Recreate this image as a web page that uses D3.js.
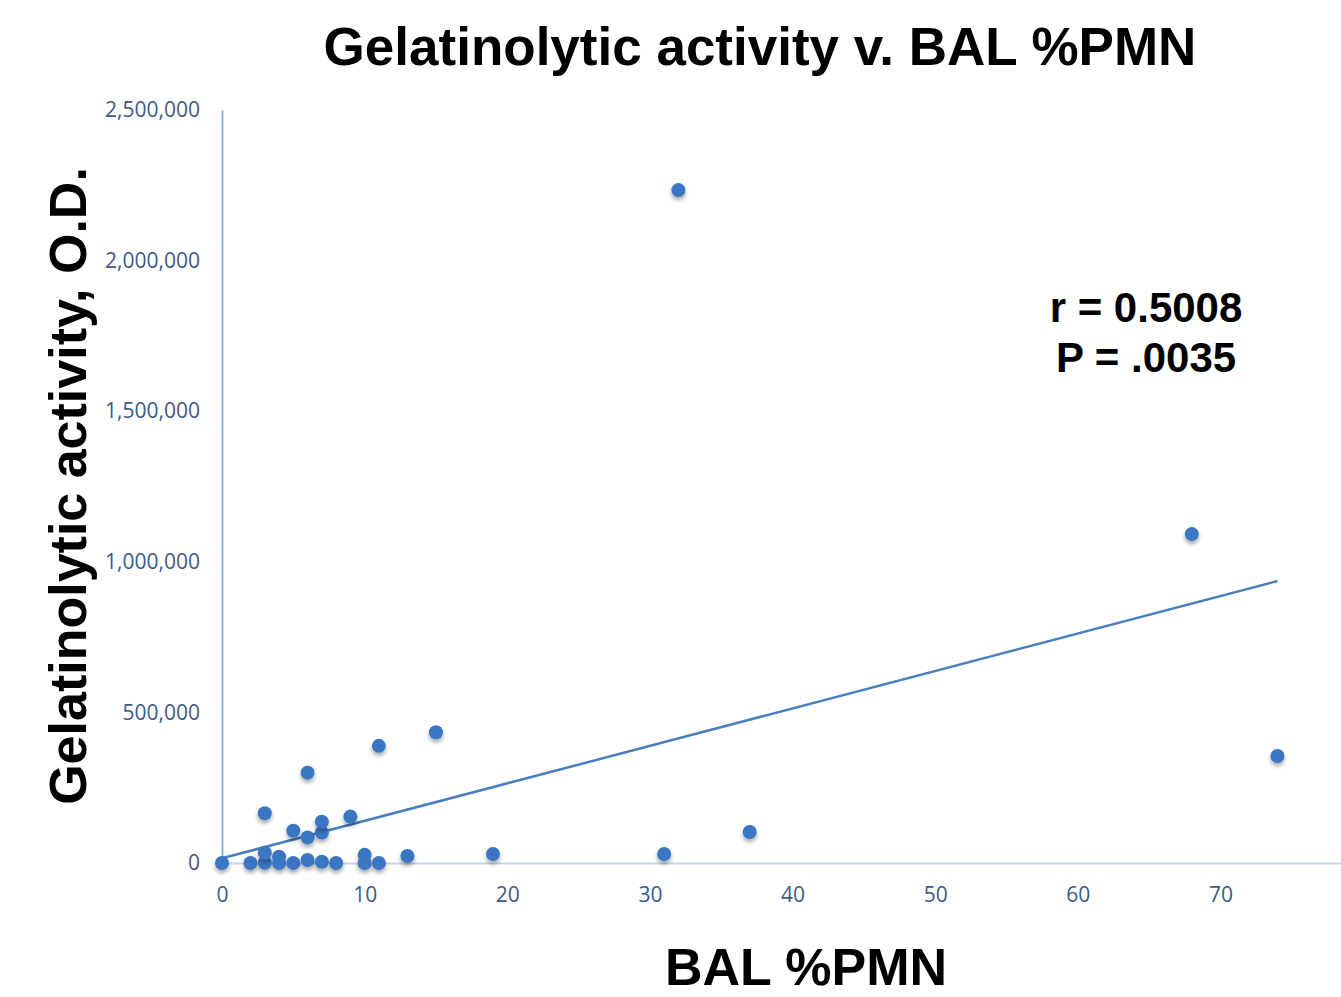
<!DOCTYPE html>
<html>
<head>
<meta charset="utf-8">
<script src="https://cdn.jsdelivr.net/npm/d3@7"></script>
<style>
  body { margin: 0; background: #fff; }
  svg { display: block; }
</style>
</head>
<body>
<div id="chart"></div>
<script>
const width = 1341;
const height = 997;

// BAL %PMN vs gelatinolytic activity (O.D.)
const pmn = [0, 2, 3, 3, 3, 4, 4, 5, 5, 6, 6, 6, 7, 7, 7, 8, 9, 10, 10, 11, 11, 13, 15, 19, 31, 32, 37, 68, 74];
const activity = [0, 0, 1000, 34000, 165000, 21000, 0, 0, 107000, 10000, 85000, 300000, 4000, 101000, 137000, 0, 154000, 27000, 0, 0, 389000, 23000, 434000, 30000, 30000, 2234000, 103000, 1092000, 355000];

// fitted line
const trendIntercept = 15600;
const trendSlope = 12440;
const trendRange = [0, 74];

const xTicks = [0, 10, 20, 30, 40, 50, 60, 70];
const yTicks = [0, 500000, 1000000, 1500000, 2000000, 2500000];

const points = pmn.map((p, i) => ({ x: p, y: activity[i] }));

const svg = d3.select("#chart")
  .append("svg")
  .attr("width", width)
  .attr("height", height);

const defs = svg.append("defs");
const shadow = defs.append("filter")
  .attr("id", "shadow")
  .attr("x", "-50%").attr("y", "-50%")
  .attr("width", "200%").attr("height", "200%");
shadow.append("feDropShadow")
  .attr("dx", 0).attr("dy", 3)
  .attr("stdDeviation", 2)
  .attr("flood-color", "#000")
  .attr("flood-opacity", 0.35);

const x = d3.scaleLinear().domain([0, 80]).range([222, 1363]);
const y = d3.scaleLinear().domain([0, 2500000]).range([863, 110]);

const tickColor = "#3d5a86";
const tickFont = "'Open Sans', 'Liberation Sans', sans-serif";

// x axis
const xAxis = svg.append("g")
  .attr("transform", `translate(0,${y(0)})`)
  .call(d3.axisBottom(x).tickValues(xTicks).tickSize(0).tickPadding(24));
xAxis.select(".domain").attr("stroke", "#c3d6ee").attr("stroke-width", 2);
xAxis.selectAll("text")
  .attr("fill", tickColor)
  .style("font-family", tickFont)
  .style("font-size", "21px");

// y axis
const yAxis = svg.append("g")
  .attr("transform", `translate(${x(0)},0)`)
  .call(d3.axisLeft(y).tickValues(yTicks).tickSize(0).tickPadding(22)
    .tickFormat(d3.format(",")));
yAxis.select(".domain").attr("stroke", "#8db3e2").attr("stroke-width", 2);
yAxis.selectAll("text")
  .attr("fill", tickColor)
  .style("font-family", tickFont)
  .style("font-size", "21px");

// trend line
svg.append("line")
  .attr("x1", x(trendRange[0]))
  .attr("y1", y(trendIntercept + trendSlope * trendRange[0]))
  .attr("x2", x(trendRange[1]))
  .attr("y2", y(trendIntercept + trendSlope * trendRange[1]))
  .attr("stroke", "#4a7ebf")
  .attr("stroke-width", 2.5);

// points
svg.append("g")
  .selectAll("circle")
  .data(points)
  .join("circle")
  .attr("cx", d => x(d.x))
  .attr("cy", d => y(d.y))
  .attr("r", 7)
  .attr("fill", "#3a76c3")
  .attr("filter", "url(#shadow)");

const boldFont = "'Liberation Sans', Arial, sans-serif";

// title
svg.append("text")
  .attr("x", 760)
  .attr("y", 65)
  .attr("text-anchor", "middle")
  .style("font-family", boldFont)
  .style("font-weight", "bold")
  .style("font-size", "53px")
  .text("Gelatinolytic activity v. BAL %PMN");

// axis titles
svg.append("text")
  .attr("x", 806)
  .attr("y", 985)
  .attr("text-anchor", "middle")
  .style("font-family", boldFont)
  .style("font-weight", "bold")
  .style("font-size", "52px")
  .text("BAL %PMN");

svg.append("text")
  .attr("transform", "translate(86,486) rotate(-90)")
  .attr("text-anchor", "middle")
  .style("font-family", boldFont)
  .style("font-weight", "bold")
  .style("font-size", "52px")
  .text("Gelatinolytic activity, O.D.");

// stats
const stats = svg.append("text")
  .attr("text-anchor", "middle")
  .style("font-family", boldFont)
  .style("font-weight", "bold")
  .style("font-size", "42px");
stats.append("tspan").attr("x", 1146).attr("y", 322).text("r = 0.5008");
stats.append("tspan").attr("x", 1146).attr("y", 372).text("P = .0035");
</script>
</body>
</html>
